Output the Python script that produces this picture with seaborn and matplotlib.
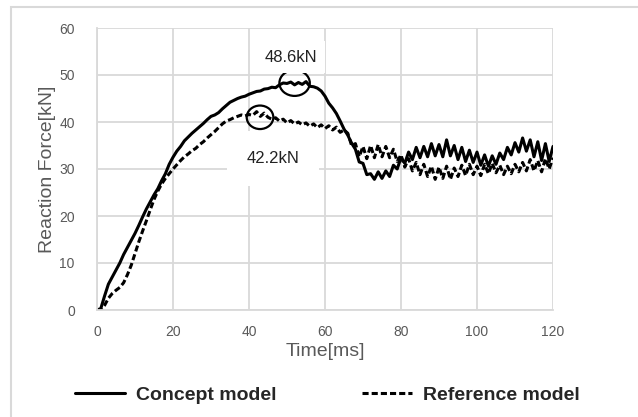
import numpy as np
import pandas as pd
import matplotlib
matplotlib.use("Agg")
import matplotlib.pyplot as plt
import matplotlib.patches as mpatches
import seaborn as sns

# --------------------------
# Data (1 ms steps, 0..120 ms)
# --------------------------
time_ms = list(range(0, 121))

concept_kn = [
    0.0, 0.3, 3.0, 5.5, 7.0, 8.5, 10.0, 11.8, 13.3, 14.8,
    16.3, 18.0, 19.8, 21.5, 23.0, 24.5, 25.8, 27.5, 29.0, 31.0,
    32.5, 33.8, 34.8, 36.0, 36.8, 37.6, 38.3, 39.0, 39.7, 40.5,
    41.2, 41.5, 42.0, 42.8, 43.5, 44.2, 44.6, 45.0, 45.3, 45.5,
    45.9, 46.2, 46.5, 46.6, 47.0, 47.1, 47.4, 47.3, 47.9, 48.3,
    48.2, 48.5, 47.9, 48.4, 48.0, 48.6, 47.6, 47.5, 47.2, 46.6,
    45.5, 44.0, 43.0, 41.8, 40.2, 38.5, 37.2, 35.5, 34.2, 31.5,
    31.2, 28.8, 29.0, 27.8, 29.4, 28.0, 29.6, 28.4, 30.8, 30.0,
    32.4, 31.2, 33.6, 32.0, 34.6, 32.4, 34.8, 32.6, 35.4, 32.8,
    35.2, 32.6, 36.2, 32.8, 35.0, 32.0, 34.6, 31.6, 34.0, 31.4,
    33.6, 30.8, 33.0, 30.6, 32.8, 31.0, 33.4, 32.0, 34.6, 33.0,
    35.6, 33.6, 36.6, 33.8, 36.2, 32.6, 35.8, 31.8, 35.4, 31.6,
    34.8,
]

reference_kn = [
    0.0, 0.0, 1.0, 2.5, 3.5, 4.2, 4.8, 5.8, 7.5, 9.5,
    12.0, 14.5, 16.8, 19.0, 21.3, 23.5, 25.3, 26.8, 28.0, 29.0,
    30.0, 30.9, 31.8, 32.6, 33.2, 33.9, 34.4, 35.2, 35.8, 36.6,
    37.3, 38.0, 38.8, 39.6, 40.2, 40.5, 40.9, 41.2, 41.5, 41.3,
    41.6, 41.4, 42.2, 41.2, 41.9, 41.0, 40.6, 40.9, 40.2, 40.6,
    39.8, 40.3, 39.6, 40.0, 39.4, 39.8, 39.1, 39.6, 38.8, 39.4,
    38.6, 39.2, 38.3, 38.9, 37.8, 38.3, 37.6, 35.0, 35.4, 32.6,
    34.8, 32.2, 35.0, 32.4, 35.2, 32.6, 34.8, 32.4, 34.2, 31.6,
    33.0, 30.4, 32.2, 29.6, 31.4, 28.8, 31.0, 28.4, 30.6, 27.8,
    30.4, 28.0, 30.6, 27.8, 30.2, 28.4, 30.8, 28.6, 31.0, 28.8,
    30.6, 28.6, 31.0, 29.0, 31.2, 29.2, 30.8, 28.8, 30.6, 29.0,
    31.0, 29.4, 31.4, 29.6, 32.0, 29.6, 31.8, 29.4, 32.2, 30.0,
    32.4,
]

series_names = ["Concept model", "Reference model"]
peak_labels = ["48.6kN", "42.2kN"]
x_ticks = [0, 20, 40, 60, 80, 100, 120]
y_ticks = [0, 10, 20, 30, 40, 50, 60]

# --------------------------
# Build long-form table for seaborn
# --------------------------
df = pd.DataFrame({
    "Time": time_ms * 2,
    "Force": concept_kn + reference_kn,
    "Model": [series_names[0]] * len(time_ms) + [series_names[1]] * len(time_ms),
})

sns.set_style("white")
plt.rcParams["font.family"] = ["Liberation Sans", "DejaVu Sans"]

GRID = "#d9d9d9"
TXT = "#595959"

fig = plt.figure(figsize=(6.38, 4.17), dpi=100)
ax = fig.add_axes([97 / 638, 1 - 310 / 417, (553 - 97) / 638, (310 - 28) / 417])

sns.lineplot(data=df, x="Time", y="Force", hue="Model", style="Model",
             palette={series_names[0]: "black", series_names[1]: "black"},
             dashes={series_names[0]: "", series_names[1]: (2, 1)},
             linewidth=2.2, ax=ax, legend=True)

ax.set_xlim(0, 120)
ax.set_ylim(0, 60)
ax.set_xticks(x_ticks)
ax.set_yticks(y_ticks)
ax.grid(True, color=GRID, linewidth=1.3)
ax.set_axisbelow(True)
for side in ["top", "right"]:
    ax.spines[side].set_visible(False)
for side in ["left", "bottom"]:
    ax.spines[side].set_color(GRID)
    ax.spines[side].set_linewidth(1.3)
ax.tick_params(axis="both", length=0, labelsize=10, labelcolor=TXT)
ax.tick_params(axis="x", pad=11)
ax.tick_params(axis="y", pad=16)
ax.set_xlabel("Time[ms]", fontsize=14, color=TXT, labelpad=3)
ax.set_ylabel("Reaction Force[kN]", fontsize=14, color=TXT, labelpad=2)

# peak markers
ax.add_patch(mpatches.Ellipse((52, 48.3), 8, 5.5, fill=False, edgecolor="black", linewidth=1.6))
ax.add_patch(mpatches.Ellipse((42.9, 41.0), 7, 5.0, fill=False, edgecolor="black", linewidth=1.6))
ax.text(51, 53.8, peak_labels[0], ha="center", va="center", fontsize=12, color="#222222",
        bbox=dict(facecolor="white", edgecolor="none", boxstyle="square,pad=0.5"))
ax.text(46.3, 32.3, peak_labels[1], ha="center", va="center", fontsize=12, color="#222222",
        bbox=dict(facecolor="white", edgecolor="none", boxstyle="square,pad=1.2"))

# legend below the plot
handles, labels = ax.get_legend_handles_labels()
ax.legend(handles=handles, labels=labels, loc="center left",
          bbox_to_anchor=(57 / 638, 1 - 395 / 417), bbox_transform=fig.transFigure,
          ncol=2, frameon=False, handlelength=2.6, handletextpad=0.55, columnspacing=4.4,
          prop={"weight": "bold", "size": 14})

# light outer frame
fig.add_artist(mpatches.Rectangle((11 / 638, -0.05), 1.0, 1.05 - 7 / 417,
                                  transform=fig.transFigure, fill=False,
                                  edgecolor=GRID, linewidth=1.5))

fig.savefig("out.png", dpi=100)
